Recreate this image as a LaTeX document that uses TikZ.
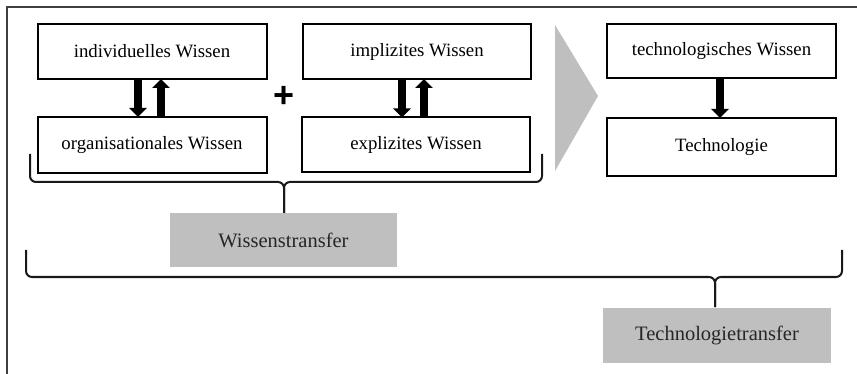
\documentclass[tikz,border=0pt]{standalone}
\usepackage{fontspec}
\setmainfont{Liberation Serif}
\newfontfamily\plusfont{Liberation Sans}
\usetikzlibrary{arrows.meta}
\definecolor{boxgray}{HTML}{BFBFBF}
\definecolor{framegray}{HTML}{404040}
\tikzset{
  wbox/.style={draw=black, line width=2pt, fill=white, minimum width=229pt,
    minimum height=55pt, inner sep=0pt, outer sep=0pt,
    font=\fontsize{18.8}{22}\selectfont},
  gbox/.style={fill=boxgray, minimum width=228pt, minimum height=55pt,
    inner sep=0pt, outer sep=0pt, text=black!85,
    font=\fontsize{20.5}{24}\selectfont},
  blockarrow/.style={line width=7.5pt,
    -{Triangle[width=17pt,length=9pt]}},
  bracepath/.style={draw=black!90, line width=2pt, rounded corners=6pt},
  framepath/.style={draw=framegray, line width=1.5pt}
}
\begin{document}
\begin{tikzpicture}[x=1pt,y=-1pt]
\useasboundingbox (0,0) rectangle (857,374);

% outer frame (top and left edges)
\draw[framepath] (857,7) -- (7,7) -- (7,374);

% knowledge boxes
\node[wbox] (indiv) at (152,51.5) {individuelles Wissen};
\node[wbox, minimum height=56pt] (orga) at (152,145) {organisationales Wissen};
\node[wbox, minimum width=228pt] (impl) at (417,51.5) {implizites Wissen};
\node[wbox, minimum width=228pt] (expl) at (416,145) {explizites Wissen};
\node[wbox, minimum height=54pt] (techw) at (721.5,51) {technologisches Wissen};
\node[wbox, minimum height=58pt] (tech) at (721.5,147) {Technologie};

% plus sign between the two pairs
\node[font=\plusfont\bfseries\fontsize{36}{36}\selectfont, inner sep=0pt] (plus) at (284,97) {+};

% large grey triangle pointing right
\fill[boxgray] (555,25) -- (598,96) -- (555,171) -- cycle;

% block arrows
\draw[blockarrow] ([xshift=-14pt]indiv.south) -- ([xshift=-14pt]orga.north);
\draw[blockarrow] ([xshift=9pt]orga.north) -- ([xshift=9pt]indiv.south);
\draw[blockarrow] ([xshift=-15pt]impl.south) -- ([xshift=-14pt]expl.north);
\draw[blockarrow] ([xshift=8pt]expl.north) -- ([xshift=7pt]impl.south);
\draw[blockarrow] ([xshift=-1.5pt]techw.south) -- ([xshift=-1.5pt]tech.north);

% transfer labels
\node[gbox, minimum width=227pt, minimum height=54pt] (wt) at (283.5,240) {Wissenstransfer};
\node[gbox] (tt) at (717,335.5) {Technologietransfer};

% upper brace
\coordinate (ul) at (30,154);
\coordinate (ur) at (542,154);
\draw[bracepath] (ul) -- (30,182) -- (284,182) -- (wt.north -| 284,0);
\draw[bracepath] (ur) -- (542,182) -- (284,182) -- (wt.north -| 284,0);

% lower brace
\coordinate (ll) at (26,250);
\coordinate (lr) at (842,250);
\draw[bracepath] (ll) -- (26,277) -- (715,277) -- (715,307);
\draw[bracepath] (lr) -- (842,277) -- (715,277) -- (715,307);
\end{tikzpicture}
\end{document}
